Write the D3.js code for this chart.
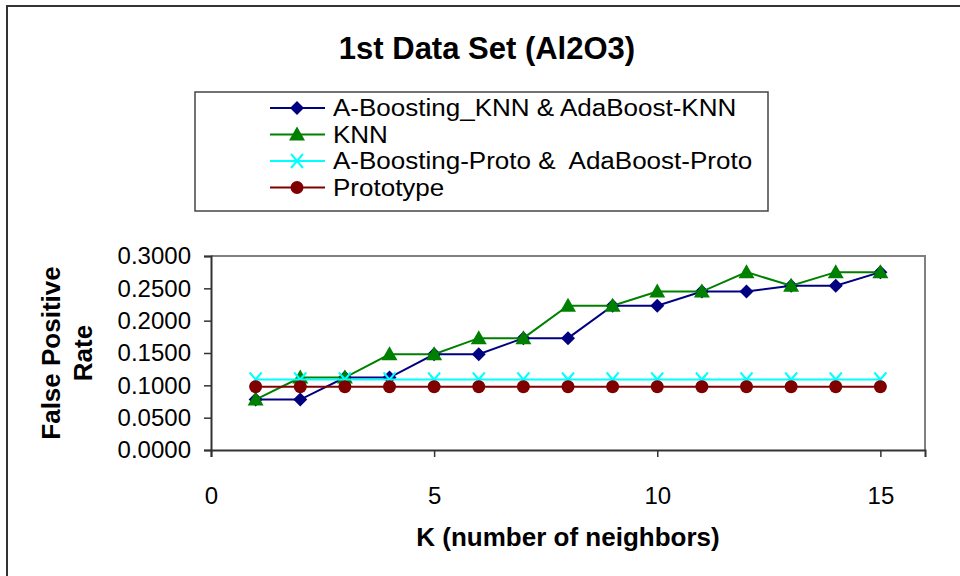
<!DOCTYPE html>
<html>
<head>
<meta charset="utf-8">
<script src="https://cdn.jsdelivr.net/npm/d3@7"></script>
<style>
  body { margin: 0; background: #fff; }
  svg { display: block; font-family: "Liberation Sans", Arial, sans-serif; }
  text { white-space: pre; }
</style>
</head>
<body>
<svg id="chart" width="960" height="576"></svg>
<script>
// K values (number of neighbours)
const kValues = [1, 2, 3, 4, 5, 6, 7, 8, 9, 10, 11, 12, 13, 14, 15];

// False positive rate per method
const boostKnn = [0.078, 0.078, 0.112, 0.112, 0.148, 0.148, 0.173, 0.173, 0.223, 0.223, 0.245, 0.245, 0.254, 0.254, 0.275];
const knn      = [0.078, 0.112, 0.112, 0.148, 0.148, 0.173, 0.173, 0.223, 0.223, 0.245, 0.245, 0.275, 0.254, 0.275, 0.275];
const boostProto = [0.109, 0.109, 0.109, 0.109, 0.109, 0.109, 0.109, 0.109, 0.109, 0.109, 0.109, 0.109, 0.109, 0.109, 0.109];
const prototype  = [0.098, 0.098, 0.098, 0.098, 0.098, 0.098, 0.098, 0.098, 0.098, 0.098, 0.098, 0.098, 0.098, 0.098, 0.098];

const seriesNames = [
  "A-Boosting_KNN & AdaBoost-KNN",
  "KNN",
  "A-Boosting-Proto &  AdaBoost-Proto",
  "Prototype"
];
const xTicks = [0, 5, 10, 15];
const yTicks = [0, 0.05, 0.1, 0.15, 0.2, 0.25, 0.3];

const series = [
  { name: seriesNames[0], values: boostKnn,   color: "#000080", marker: "diamond" },
  { name: seriesNames[1], values: knn,        color: "#008000", marker: "triangle" },
  { name: seriesNames[2], values: boostProto, color: "#00FFFF", marker: "cross" },
  { name: seriesNames[3], values: prototype,  color: "#800000", marker: "circle" }
];

const svg = d3.select("#chart");

// outer frame (top and left edges)
svg.append("path")
  .attr("d", "M7,576 V6 H960")
  .attr("fill", "none").attr("stroke", "#333").attr("stroke-width", 2);

// title
svg.append("text")
  .attr("x", 487).attr("y", 59)
  .attr("text-anchor", "middle")
  .attr("font-size", 31).attr("font-weight", "bold")
  .text("1st Data Set (Al2O3)");

const plot = { left: 211, right: 925, top: 256, bottom: 450 };
const x = d3.scaleLinear().domain([0, 16]).range([plot.left, plot.right]);
const y = d3.scaleLinear().domain([0, 0.3]).range([plot.bottom, plot.top]);

// plot-area border (top and right)
svg.append("path")
  .attr("d", `M${plot.left},${plot.top} H${plot.right} V${plot.bottom}`)
  .attr("fill", "none").attr("stroke", "#808080").attr("stroke-width", 2);

// axes
const yAxis = svg.append("g")
  .attr("transform", `translate(${plot.left},0)`)
  .call(d3.axisLeft(y).tickValues(yTicks).tickFormat(d3.format(".4f")).tickSize(7).tickPadding(13));
const xAxis = svg.append("g")
  .attr("transform", `translate(0,${plot.bottom})`)
  .call(d3.axisBottom(x).tickValues(xTicks).tickFormat(d3.format("d")).tickSize(7).tickPadding(30));

[yAxis, xAxis].forEach(g => {
  g.select(".domain").attr("stroke", "#333").attr("stroke-width", 2);
  g.selectAll(".tick line").attr("stroke", "#333").attr("stroke-width", 1.5);
  g.selectAll(".tick text")
    .attr("font-size", 24).attr("fill", "#000")
    .attr("font-family", "'Liberation Sans', Arial, sans-serif");
});

// axis titles
svg.append("text")
  .attr("transform", "translate(60,353) rotate(-90)")
  .attr("text-anchor", "middle")
  .attr("font-size", 26).attr("font-weight", "bold")
  .text("False Positive");
svg.append("text")
  .attr("transform", "translate(92,353) rotate(-90)")
  .attr("text-anchor", "middle")
  .attr("font-size", 26).attr("font-weight", "bold")
  .text("Rate");
svg.append("text")
  .attr("x", 568).attr("y", 546)
  .attr("text-anchor", "middle")
  .attr("font-size", 26).attr("font-weight", "bold")
  .text("K (number of neighbors)");

// marker drawing
function drawMarker(sel, type, color) {
  if (type === "diamond") {
    sel.append("path").attr("d", "M0,-7 L7,0 L0,7 L-7,0 Z").attr("fill", color);
  } else if (type === "triangle") {
    sel.append("path").attr("d", "M0,-8 L8,6 L-8,6 Z").attr("fill", color);
  } else if (type === "cross") {
    sel.append("path").attr("d", "M-6,-7 L6,7 M-6,7 L6,-7")
      .attr("stroke", color).attr("stroke-width", 2).attr("fill", "none");
  } else {
    sel.append("circle").attr("r", 6.5).attr("fill", color);
  }
}

const line = d3.line().x(d => x(d[0])).y(d => y(d[1]));

series.forEach(s => {
  const pts = kValues.map((k, i) => [k, s.values[i]]);
  svg.append("path")
    .datum(pts)
    .attr("d", line)
    .attr("fill", "none").attr("stroke", s.color).attr("stroke-width", 2);
  svg.append("g").selectAll("g")
    .data(pts).join("g")
    .attr("transform", d => `translate(${x(d[0])},${y(d[1])})`)
    .each(function () { drawMarker(d3.select(this), s.marker, s.color); });
});

// legend: rows are tightly packed, so text is set slightly smaller
// and widened to its natural 26px width
const legend = svg.append("g");
legend.append("rect")
  .attr("x", 195).attr("y", 92).attr("width", 573).attr("height", 119)
  .attr("fill", "#fff").attr("stroke", "#444").attr("stroke-width", 1.5);
series.forEach((s, i) => {
  const cy = 108 + i * 26.5;
  const row = legend.append("g").attr("transform", `translate(0,${cy})`);
  row.append("line")
    .attr("x1", 270).attr("x2", 325).attr("y1", 0).attr("y2", 0)
    .attr("stroke", s.color).attr("stroke-width", 2);
  drawMarker(row.append("g").attr("transform", "translate(297,0)"), s.marker, s.color);
  const t = row.append("text")
    .attr("x", 333).attr("y", 8)
    .attr("font-size", 26)
    .text(s.name);
  const w = t.node().getComputedTextLength();
  t.attr("font-size", 23)
    .attr("textLength", w)
    .attr("lengthAdjust", "spacingAndGlyphs");
});
</script>
</body>
</html>
